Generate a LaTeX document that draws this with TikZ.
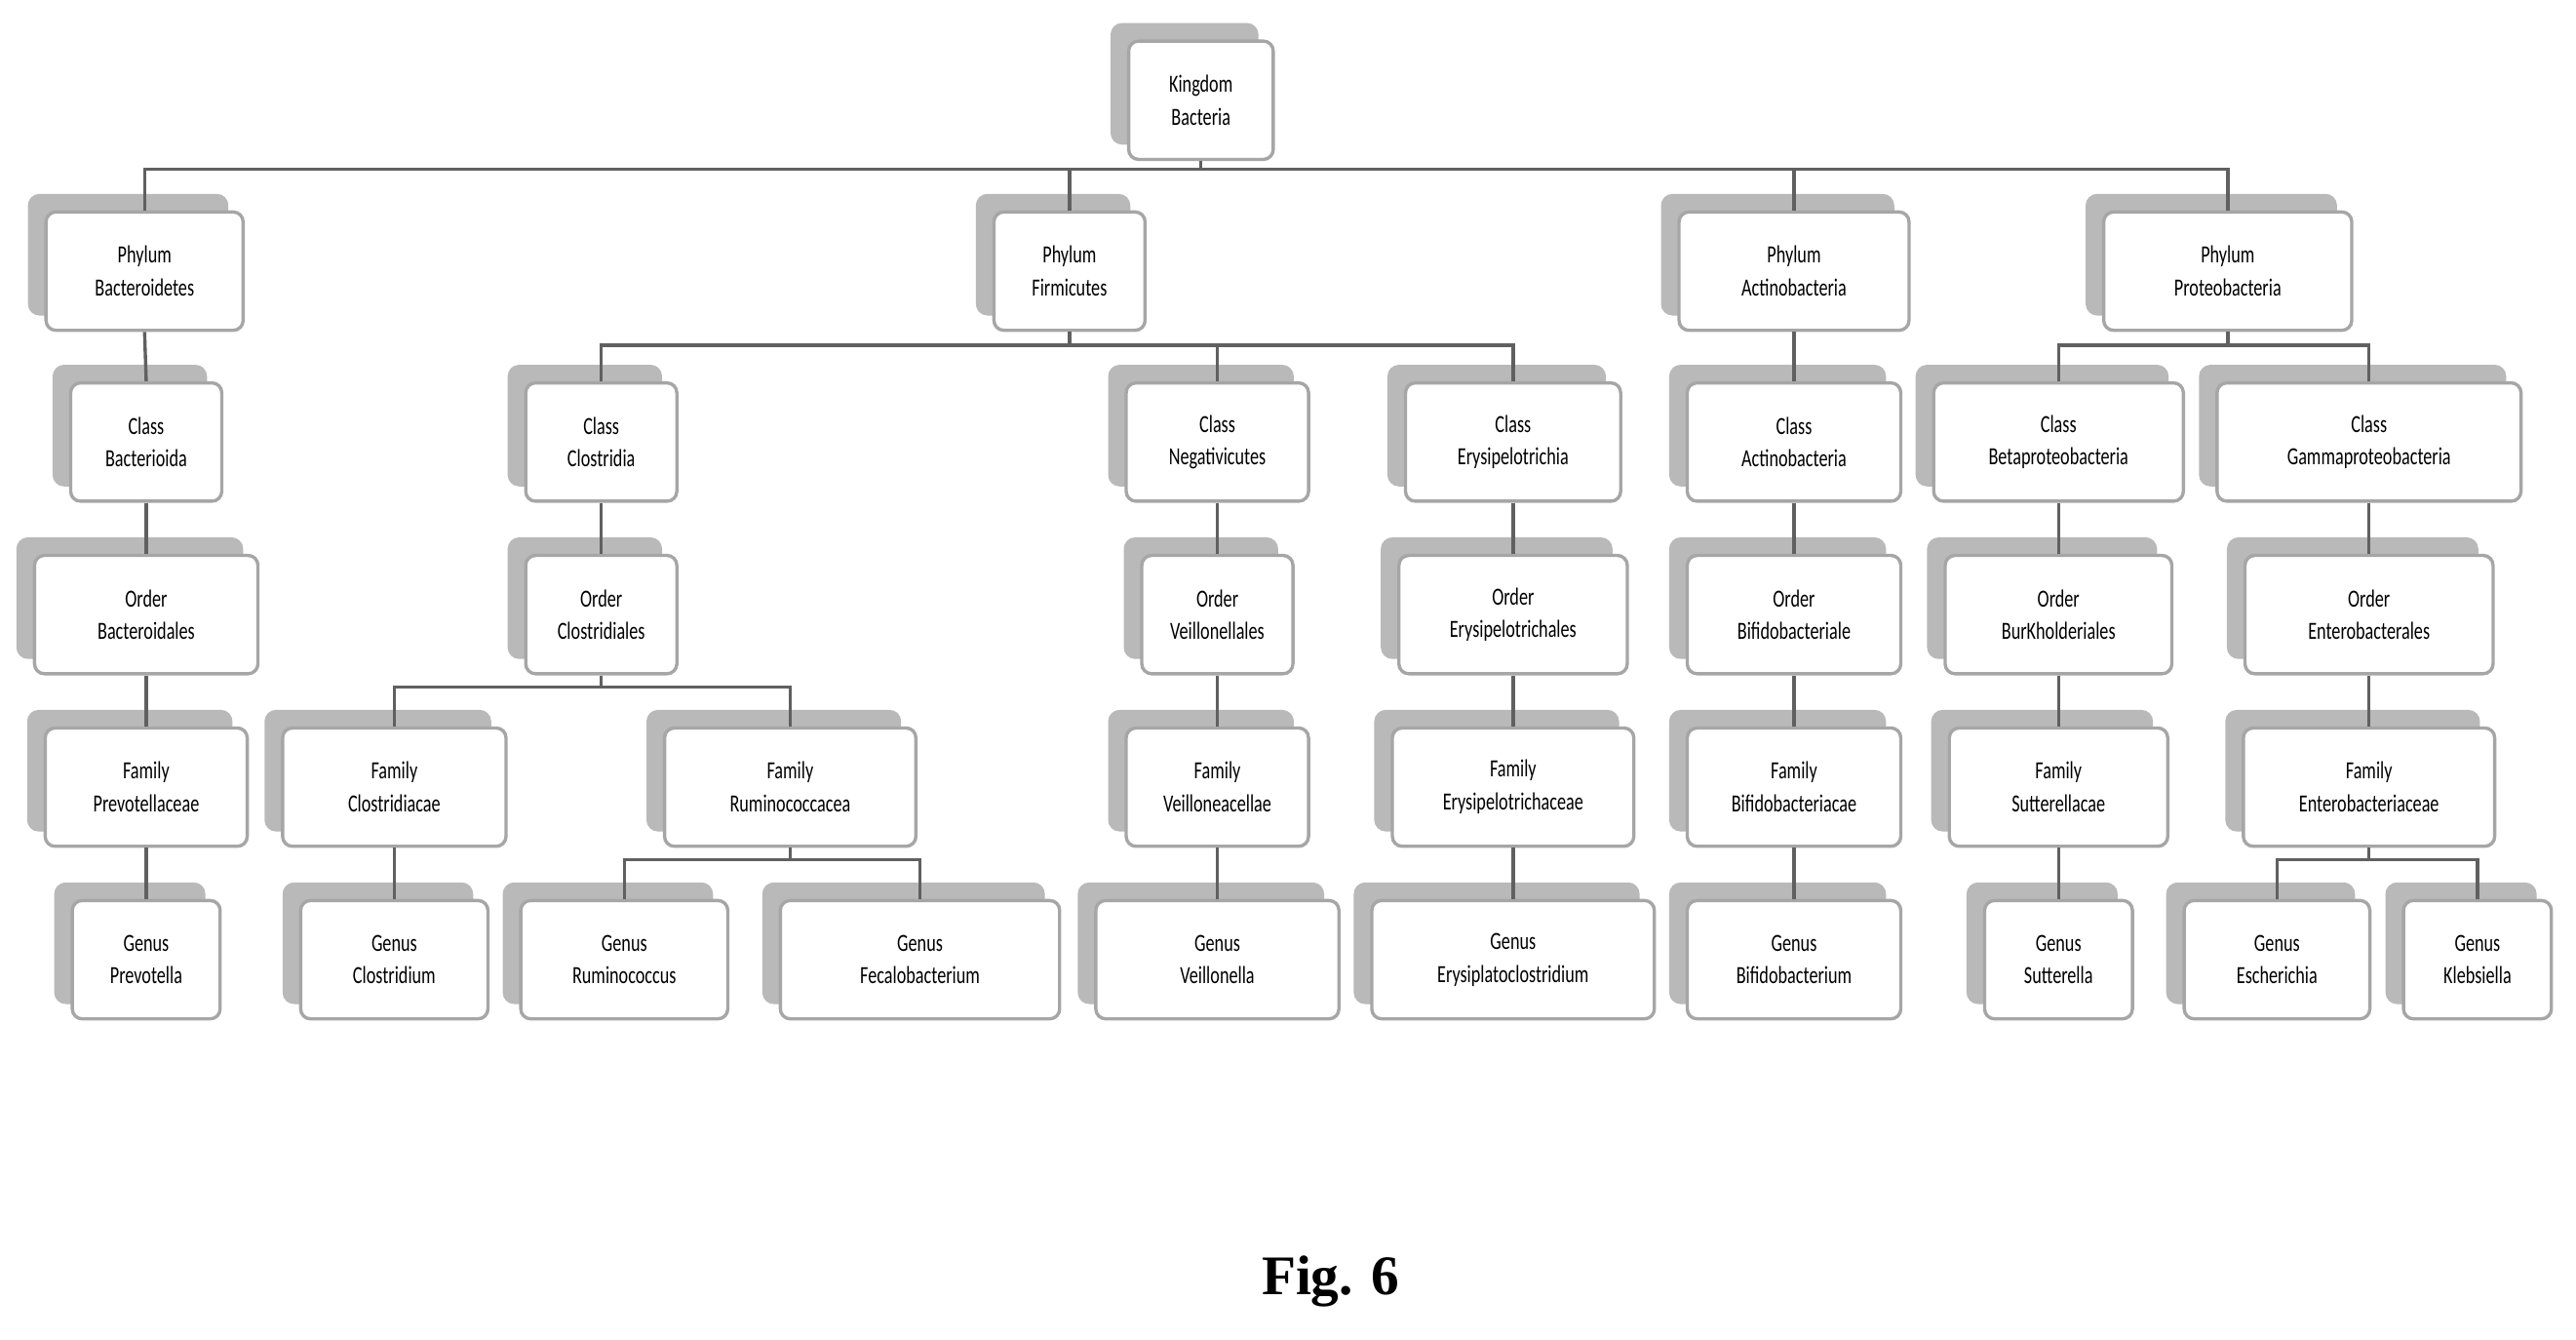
\documentclass[tikz,border=0pt]{standalone}
\usepackage{fontspec}
\setmainfont{Liberation Serif}
\newfontfamily\boxfont[FakeStretch=0.72]{Carlito}
\usetikzlibrary{shadows}

% one taxon box: name, x, y, width, rank, label
\newcommand{\taxon}[6]{
	\node[taxbox,minimum width=#4*0.5pt] (#1) at (#2,#3) {#5\\#6};
}

\begin{document}
\begin{tikzpicture}[x=0.5pt,y=-0.5pt,
		taxbox/.style={draw=gray!70,line width=1pt,fill=white,rounded corners=3pt,
			minimum height=36pt,align=center,font=\boxfont\fontsize{7.5}{10}\selectfont,
			copy shadow={shadow xshift=-5pt,shadow yshift=5pt,fill=gray!55,draw=gray!55}},
		link/.style={draw=gray!75!black,line width=1pt}]

	\useasboundingbox (0,0) rectangle (1568,815);

	% Kingdom and phyla
	\taxon{king}{731}{61}{88}{Kingdom}{Bacteria}
	\taxon{phyB}{88}{165}{120}{Phylum}{Bacteroidetes}
	\taxon{phyF}{651}{165}{92}{Phylum}{Firmicutes}
	\taxon{phyA}{1092}{165}{140}{Phylum}{Actinobacteria}
	\taxon{phyP}{1356}{165}{151}{Phylum}{Proteobacteria}

	% Classes
	\taxon{clsB}{89}{269}{92}{Class}{Bacterioida}
	\taxon{clsC}{366}{269}{92}{Class}{Clostridia}
	\taxon{clsN}{741}{269}{111}{Class}{Negativicutes}
	\taxon{clsE}{921}{269}{131}{Class}{Erysipelotrichia}
	\taxon{clsA}{1092}{269}{130}{Class}{Actinobacteria}
	\taxon{clsBe}{1253}{269}{152}{Class}{Betaproteobacteria}
	\taxon{clsG}{1442}{269}{185}{Class}{Gammaproteobacteria}

	% Orders
	\taxon{ordB}{89}{374}{136}{Order}{Bacteroidales}
	\taxon{ordC}{366}{374}{92}{Order}{Clostridiales}
	\taxon{ordV}{741}{374}{92}{Order}{Veillonellales}
	\taxon{ordE}{921}{374}{139}{Order}{Erysipelotrichales}
	\taxon{ordA}{1092}{374}{130}{Order}{Bifidobacteriale}
	\taxon{ordBu}{1253}{374}{138}{Order}{BurKholderiales}
	\taxon{ordG}{1442}{374}{151}{Order}{Enterobacterales}

	% Families
	\taxon{famP}{89}{479}{123}{Family}{Prevotellaceae}
	\taxon{famC}{240}{479}{136}{Family}{Clostridiacae}
	\taxon{famR}{481}{479}{153}{Family}{Ruminococcacea}
	\taxon{famV}{741}{479}{111}{Family}{Veilloneacellae}
	\taxon{famE}{921}{479}{147}{Family}{Erysipelotrichaceae}
	\taxon{famA}{1092}{479}{130}{Family}{Bifidobacteriacae}
	\taxon{famS}{1253}{479}{133}{Family}{Sutterellacae}
	\taxon{famG}{1442}{479}{153}{Family}{Enterobacteriaceae}

	% Genera
	\taxon{genP}{89}{584}{90}{Genus}{Prevotella}
	\taxon{genC}{240}{584}{114}{Genus}{Clostridium}
	\taxon{genR}{380}{584}{126}{Genus}{Ruminococcus}
	\taxon{genF}{560}{584}{170}{Genus}{Fecalobacterium}
	\taxon{genV}{741}{584}{148}{Genus}{Veillonella}
	\taxon{genE}{921}{584}{172}{Genus}{Erysiplatoclostridium}
	\taxon{genA}{1092}{584}{130}{Genus}{Bifidobacterium}
	\taxon{genS}{1253}{584}{90}{Genus}{Sutterella}
	\taxon{genEs}{1386}{584}{113}{Genus}{Escherichia}
	\taxon{genK}{1508}{584}{90}{Genus}{Klebsiella}

	% bus rows
	\coordinate (busK) at (0,103);
	\coordinate (busF) at (0,210);
	\coordinate (busO) at (0,418);
	\coordinate (busR) at (0,523);

	% branching links
	\foreach \c in {phyB,phyF,phyA,phyP} {
		\draw[link] (king.south) -- (king.south|-busK) -| (\c.north);
	}
	\foreach \c in {clsC,clsN,clsE} {
		\draw[link] (phyF.south) -- (phyF.south|-busF) -| (\c.north);
	}
	\foreach \c in {clsBe,clsG} {
		\draw[link] (phyP.south) -- (phyP.south|-busF) -| (\c.north);
	}
	\foreach \c in {famC,famR} {
		\draw[link] (ordC.south) -- (ordC.south|-busO) -| (\c.north);
	}
	\foreach \c in {genR,genF} {
		\draw[link] (famR.south) -- (famR.south|-busR) -| (\c.north);
	}
	\foreach \c in {genEs,genK} {
		\draw[link] (famG.south) -- (famG.south|-busR) -| (\c.north);
	}

	% straight links
	\foreach \p/\c in {phyB/clsB,clsB/ordB,ordB/famP,famP/genP,clsC/ordC,famC/genC,
		clsN/ordV,ordV/famV,famV/genV,clsE/ordE,ordE/famE,famE/genE,
		phyA/clsA,clsA/ordA,ordA/famA,famA/genA,clsBe/ordBu,ordBu/famS,famS/genS,clsG/ordG,ordG/famG} {
		\draw[link] (\p.south) -- (\c.north);
	}

	\node[font=\bfseries\fontsize{17}{20}\selectfont] (fig) at (810,780) {Fig. 6};
\end{tikzpicture}
\end{document}
